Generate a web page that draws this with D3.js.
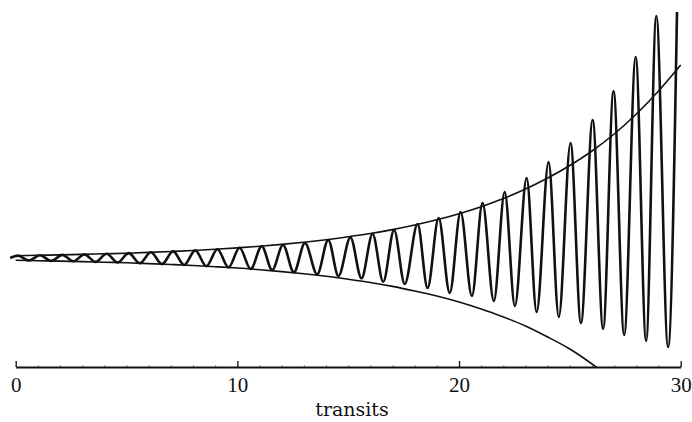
<!DOCTYPE html>
<html><head><meta charset="utf-8">
<script src="https://cdn.jsdelivr.net/npm/d3@7"></script>
<style>html,body{margin:0;padding:0;background:#fff;overflow:hidden;} svg{display:block}</style>
</head><body>
<script>
// ---- data ----
const xTickLabels = [0, 10, 20, 30];
const minorTicks = [0,1,2,3,4,5,6,7,8,9,10,11,12,13,14,15,16,17,18,19,20,21,22,23,24,25,26,27,28,29,30];
const axisTitle = "transits";

// envelope curves (transit, value)
const upperEnvT = [0,1,2,3,4,5,6,7,8,9,10,11,12,13,14,15,16,17,18,19,20,21,22,23,24,25,26,27,28,29,30];
const upperEnvV = [0.23,0.27,0.31,0.36,0.42,0.48,0.56,0.65,0.75,0.87,1.01,1.17,1.36,1.57,1.82,2.12,2.45,2.84,3.3,3.82,4.43,5.13,5.95,6.9,8.0,9.25,10.7,12.4,14.4,16.7,19.3];
const lowerEnvT = [0,1,2,3,4,5,6,7,8,9,10,11,12,13,14,15,16,17,18,19,20,21,22,23,24,25,26,27];
const lowerEnvV = [-0.23,-0.27,-0.31,-0.36,-0.42,-0.48,-0.56,-0.65,-0.75,-0.87,-1.0,-1.17,-1.36,-1.57,-1.82,-2.12,-2.45,-2.84,-3.3,-3.8,-4.4,-5.1,-5.9,-6.8,-7.9,-9.1,-10.6,-12.2];

// oscillating curve: start, peaks and troughs
const startT = [-0.25];
const startV = [0];
const peakT = [0.1,1.1,2.1,3.1,4.1,5.1,6.1,7.1,8.1,9.1,10.1,11.1,12.06,13.05,14.1,15.1,16.1,17.07,18.13,19.08,20.07,21.06,22.06,23.05,24.04,25.03,26.03,26.97,27.97,28.9,29.86];
const peakV = [0.24,0.27,0.31,0.36,0.42,0.49,0.57,0.66,0.76,0.88,1.02,1.18,1.3,1.5,1.8,2.05,2.4,2.8,3.4,4.0,4.6,5.5,6.6,8.0,9.6,11.5,13.8,16.7,20.1,24.2,28.0];
const troughT = [0.6,1.6,2.6,3.6,4.6,5.6,6.6,7.6,8.6,9.6,10.6,11.57,12.55,13.6,14.56,15.6,16.58,17.55,18.58,19.58,20.58,21.57,22.52,23.5,24.5,25.5,26.5,27.45,28.44,29.43];
const troughV = [-0.25,-0.29,-0.33,-0.39,-0.45,-0.52,-0.61,-0.7,-0.82,-0.94,-1.1,-1.2,-1.43,-1.63,-1.8,-2.03,-2.37,-2.6,-3.0,-3.5,-3.8,-4.3,-4.8,-5.4,-5.9,-6.5,-7.1,-7.7,-8.3,-8.9];

// ---- chart ----
const W = 692, H = 422;
const svg = d3.select("body").append("svg").attr("width", W).attr("height", H)
  .style("background", "#fff");

const x = d3.scaleLinear().domain([0, 30]).range([15.7, 680.7]);
const y = d3.scaleLinear().domain([-10.9, 25.8]).range([367, 0]);

svg.append("defs").append("clipPath").attr("id", "plot")
  .append("rect").attr("x", 0).attr("y", y(24.6)).attr("width", W).attr("height", y(-10.9) - y(24.6));

const g = svg.append("g").attr("clip-path", "url(#plot)");

const upper = upperEnvT.map((t, i) => [t, upperEnvV[i]]);
const lower = lowerEnvT.map((t, i) => [t, lowerEnvV[i]]);
const osc = []
  .concat(startT.map((t, i) => [t, startV[i]]))
  .concat(peakT.map((t, i) => [t, peakV[i]]))
  .concat(troughT.map((t, i) => [t, troughV[i]]))
  .sort((a, b) => a[0] - b[0]);

const smooth = d3.line().x(d => x(d[0])).y(d => y(d[1])).curve(d3.curveMonotoneX);
const envLine = d3.line().x(d => x(d[0])).y(d => y(d[1])).curve(d3.curveNatural);

g.append("path").attr("d", envLine(upper)).attr("fill", "none").attr("stroke", "#111").attr("stroke-width", 1.6);
g.append("path").attr("d", envLine(lower)).attr("fill", "none").attr("stroke", "#111").attr("stroke-width", 1.6);
g.append("path").attr("d", smooth(osc)).attr("fill", "none").attr("stroke", "#111")
  .attr("stroke-width", 2.6).attr("stroke-linejoin", "round");

// minor ticks
const minor = svg.append("g").attr("transform", `translate(0,${y(-10.9)})`)
  .call(d3.axisBottom(x).tickValues(minorTicks).tickSizeInner(-2).tickSizeOuter(0).tickFormat(""));
minor.select(".domain").remove();
minor.selectAll(".tick line").attr("stroke", "#777").attr("stroke-width", 0.8);

// main axis
const ax = svg.append("g").attr("transform", `translate(0,${y(-10.9)})`)
  .call(d3.axisBottom(x).tickValues(xTickLabels).tickSizeInner(-6).tickSizeOuter(0));
ax.select(".domain").attr("stroke", "#111").attr("stroke-width", 1.8);
ax.selectAll(".tick line").attr("stroke", "#111").attr("stroke-width", 1.3);
ax.selectAll(".tick text").attr("y", 24.7).attr("dy", 0)
  .attr("font-family", "'Liberation Serif', serif").attr("font-size", 21).attr("fill", "#111");

svg.append("text").attr("x", 352).attr("y", 416).attr("text-anchor", "middle")
  .attr("font-family", "'DejaVu Serif', serif").attr("font-size", 19).attr("fill", "#111")
  .text(axisTitle);
</script>
</body></html>
